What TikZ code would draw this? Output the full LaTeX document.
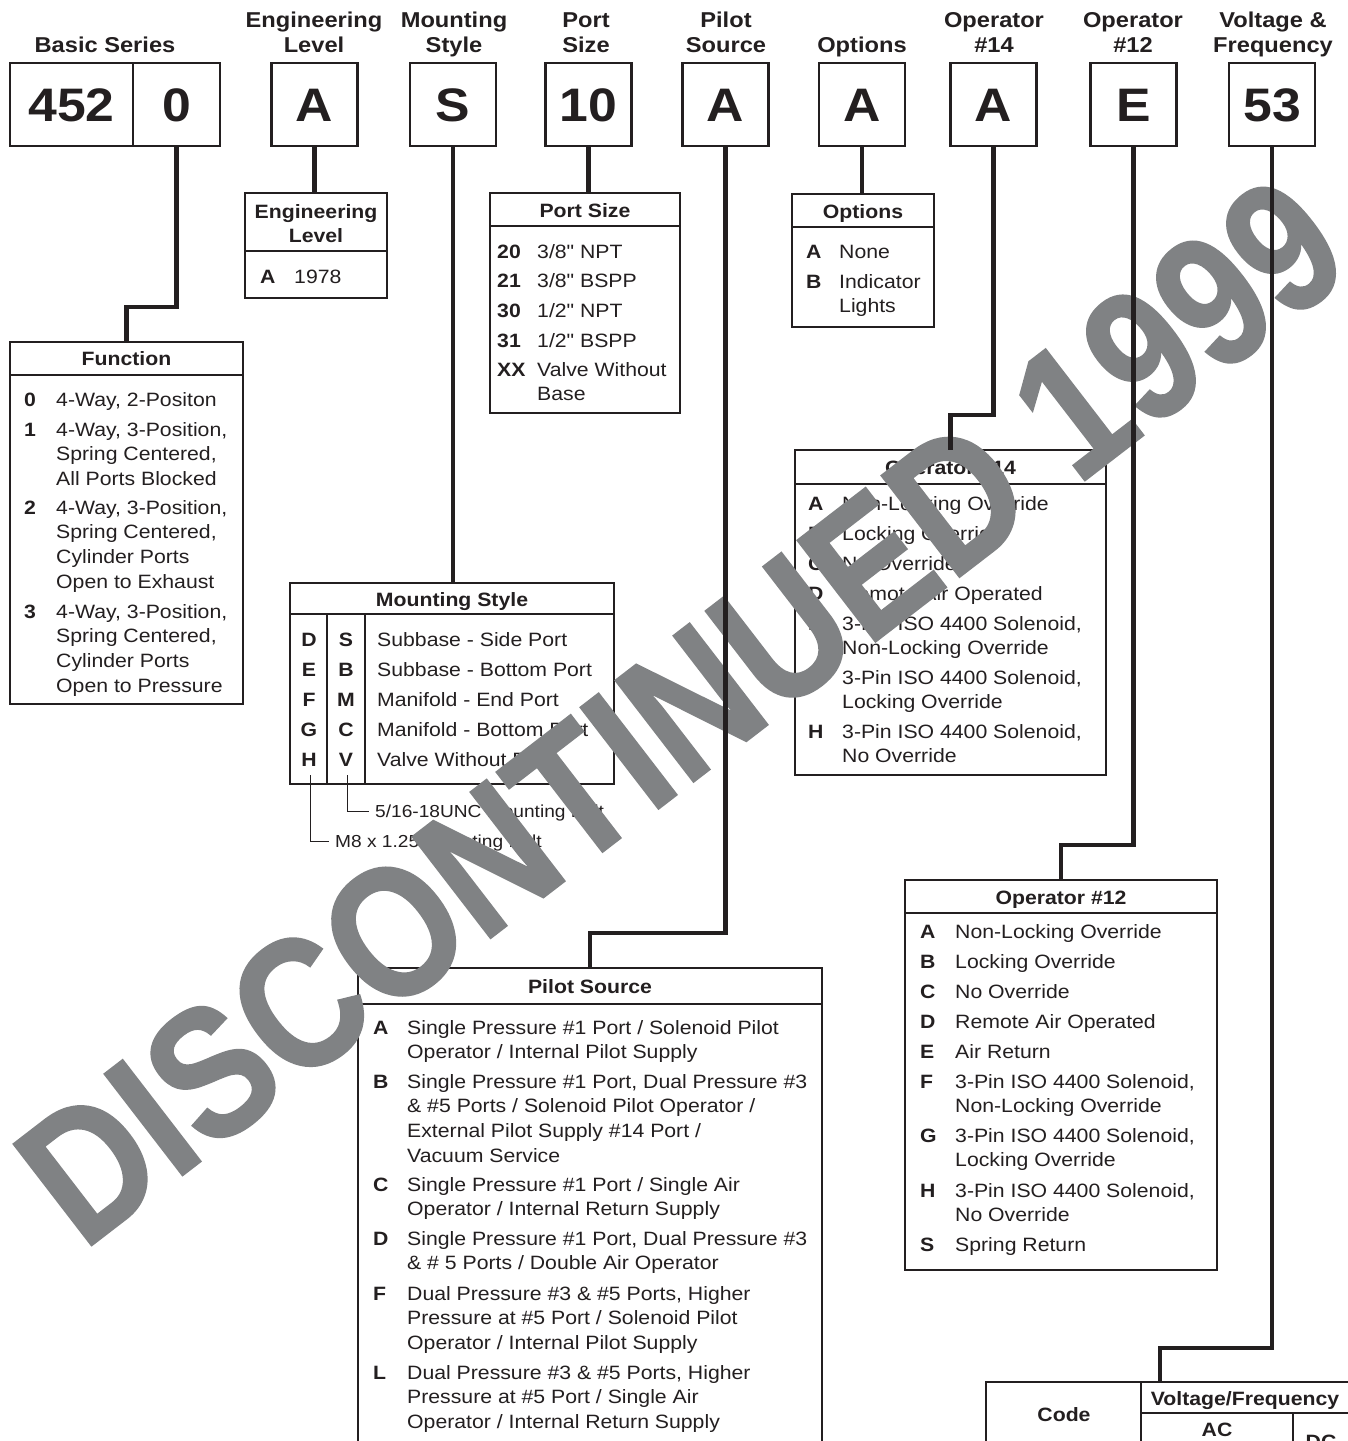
\documentclass[tikz,border=0pt]{standalone}
\usepackage{fontspec}
\setmainfont{Liberation Sans}[FakeStretch=1.1, Ligatures=TeXOff]
\newfontfamily\wmfont{Liberation Sans}[FakeStretch=0.855, FakeBold=1]
\definecolor{ink}{RGB}{35,31,32}
\definecolor{wmgray}{RGB}{128,130,132}
\newcommand\fBody{\fontsize{19.3}{24.7}\selectfont}
\newcommand\fTop{\bfseries\fontsize{21.5}{25}\selectfont}
\newcommand\fBig{\bfseries\fontsize{47}{50}\selectfont}
\newcommand\fSmall{\fontsize{17.4}{20}\selectfont}
\newcommand\qq{{\char34}}
% entry: name, x code, x text, y baseline, code, lines
\newcommand\ent[6]{%
  \node[codet] (#1k) at (#2,#4) {#5};%
  \node[bodyt] (#1) at (#3,#4) {\begin{tabular}[t]{@{}l@{}}#6\end{tabular}};%
}
\tikzset{
  tbl/.style={draw=ink, line width=2.2pt, inner sep=0pt, outer sep=0pt, anchor=north west, rectangle},
  tline/.style={draw=ink, line width=2.2pt},
  conn/.style={draw=ink, line width=4.6pt, line join=miter},
  bigbox/.style={draw=ink, line width=2.4pt, minimum width=86pt, minimum height=83pt, inner sep=0pt, outer sep=0pt, text height=33.6pt, text depth=0pt, font=\fBig, text=ink},
  toplab/.style={anchor=base, inner sep=0pt, font=\fTop, text=ink},
  headt/.style={anchor=base, inner sep=0pt, font=\fBody\bfseries, text=ink},
  codet/.style={anchor=base west, inner sep=0pt, font=\fBody\bfseries, text=ink},
  codec/.style={anchor=base, inner sep=0pt, font=\fBody\bfseries, text=ink},
  bodyt/.style={anchor=base west, inner sep=0pt, font=\fBody, text=ink},
  smallt/.style={anchor=base west, inner sep=0pt, font=\fSmall, text=ink},
  leader/.style={draw=ink, line width=1pt},
  wm/.style={anchor=base west, rotate=37.6, inner sep=0pt, text=wmgray, font=\wmfont\bfseries\fontsize{186}{186}\selectfont}
}
\begin{document}
\begin{tikzpicture}[x=1pt, y=-1pt]
\useasboundingbox (0,0) rectangle (1348,1441);
\clip (0,0) rectangle (1348,1441);
\fill[white] (0,0) rectangle (1348,1441);

% ---------- top labels ----------
\node[toplab] (lbas) at (105,52) {Basic Series};
\node[toplab] (leng) at (314,27) {\begin{tabular}[t]{@{}c@{}}Engineering\\Level\end{tabular}};
\node[toplab] (lmnt) at (454,27) {\begin{tabular}[t]{@{}c@{}}Mounting\\Style\end{tabular}};
\node[toplab] (lprt) at (586,27) {\begin{tabular}[t]{@{}c@{}}Port\\Size\end{tabular}};
\node[toplab] (lpil) at (726,27) {\begin{tabular}[t]{@{}c@{}}Pilot\\Source\end{tabular}};
\node[toplab] (lopt) at (862,52) {Options};
\node[toplab] (lo14) at (994,27) {\begin{tabular}[t]{@{}c@{}}Operator\\\#14\end{tabular}};
\node[toplab] (lo12) at (1133,27) {\begin{tabular}[t]{@{}c@{}}Operator\\\#12\end{tabular}};
\node[toplab] (lvol) at (1273,27) {\begin{tabular}[t]{@{}c@{}}Voltage \&\\Frequency\end{tabular}};

% ---------- top boxes ----------
\node[bigbox, minimum width=123pt] (b452) at (71.5,104.5) {452};
\node[bigbox, minimum width=87pt] (b0) at (176.5,104.5) {0};
\node[bigbox] (bA1) at (314.5,104.5) {A};
\node[bigbox] (bS) at (453,104.5) {S};
\node[bigbox] (b10) at (588.5,104.5) {10};
\node[bigbox] (bpil) at (725.5,104.5) {A};
\node[bigbox] (bopt) at (862,104.5) {A};
\node[bigbox] (bo14) at (993.5,104.5) {A};
\node[bigbox] (bo12) at (1133.5,104.5) {E};
\node[bigbox] (b53) at (1272,104.5) {53};

% ---------- Function ----------
\node[tbl, minimum width=233pt, minimum height=362pt] (fun) at (10,342) {};
\draw[tline] (fun.west |- 0,375) -- (fun.east |- 0,375);
\node[headt] (funh) at (126.5,365) {Function};
\ent{f0}{24}{56}{406}{0}{4-Way, 2-Positon}
\ent{f1}{24}{56}{436}{1}{4-Way, 3-Position,\\Spring Centered,\\All Ports Blocked}
\ent{f2}{24}{56}{514}{2}{4-Way, 3-Position,\\Spring Centered,\\Cylinder Ports\\Open to Exhaust}
\ent{f3}{24}{56}{618}{3}{4-Way, 3-Position,\\Spring Centered,\\Cylinder Ports\\Open to Pressure}

% ---------- Engineering Level ----------
\node[tbl, minimum width=142pt, minimum height=105pt] (eng) at (245,193) {};
\draw[tline] (eng.west |- 0,251) -- (eng.east |- 0,251);
\node[headt] (engh) at (316,218) {\begin{tabular}[t]{@{}c@{}}Engineering\\Level\end{tabular}};
\ent{e1}{260}{294}{283}{A}{1978}

% ---------- Port Size ----------
\node[tbl, minimum width=190pt, minimum height=220pt] (port) at (490,193) {};
\draw[tline] (port.west |- 0,226) -- (port.east |- 0,226);
\node[headt] (porth) at (585,217) {Port Size};
\ent{p1}{497}{537}{258}{20}{3/8\qq{} NPT}
\ent{p2}{497}{537}{287}{21}{3/8\qq{} BSPP}
\ent{p3}{497}{537}{317}{30}{1/2\qq{} NPT}
\ent{p4}{497}{537}{347}{31}{1/2\qq{} BSPP}
\ent{p5}{497}{537}{376}{XX}{Valve Without\\Base}

% ---------- Options ----------
\node[tbl, minimum width=142pt, minimum height=133pt] (opt) at (792,194) {};
\draw[tline] (opt.west |- 0,227) -- (opt.east |- 0,227);
\node[headt] (opth) at (863,218) {Options};
\ent{o1}{806}{839}{258}{A}{None}
\ent{o2}{806}{839}{288}{B}{Indicator\\Lights}

% ---------- Mounting Style ----------
\node[tbl, minimum width=324pt, minimum height=201pt] (mnt) at (290,583) {};
\draw[tline] (mnt.west |- 0,614) -- (mnt.east |- 0,614);
\draw[tline] (327,614) -- (327,784);
\draw[tline] (365,614) -- (365,784);
\node[headt] (mnth) at (452,606) {Mounting Style};
\foreach \i/\a/\b/\t/\yy in {1/D/S/{Subbase - Side Port}/646, 2/E/B/{Subbase - Bottom Port}/676, 3/F/M/{Manifold - End Port}/706, 4/G/C/{Manifold - Bottom Port}/736, 5/H/V/{Valve Without Base}/766}{
  \node[codec] (ma\i) at (309,\yy) {\a};
  \node[codec] (mb\i) at (346,\yy) {\b};
  \node[bodyt] (mt\i) at (377,\yy) {\t};
}
\draw[leader] (347,775) |- (369,811);
\draw[leader] (310,775) |- (329,841);
\node[smallt] (bolt1) at (375,817) {5/16-18UNC Mounting Bolt};
\node[smallt] (bolt2) at (335,847) {M8 x 1.25 Mounting Bolt};

% ---------- Operator #14 ----------
\node[tbl, minimum width=311pt, minimum height=325pt] (op14) at (795,450) {};
\draw[tline] (op14.west |- 0,484) -- (op14.east |- 0,484);
\node[headt] (op14h) at (950.5,474) {Operator \#14};
\ent{q1}{808}{842}{510}{A}{Non-Locking Override}
\ent{q2}{808}{842}{540}{B}{Locking Override}
\ent{q3}{808}{842}{570}{C}{No Override}
\ent{q4}{808}{842}{600}{D}{Remote Air Operated}
\ent{q5}{808}{842}{630}{F}{3-Pin ISO 4400 Solenoid,\\Non-Locking Override}
\ent{q6}{808}{842}{684}{G}{3-Pin ISO 4400 Solenoid,\\Locking Override}
\ent{q7}{808}{842}{738}{H}{3-Pin ISO 4400 Solenoid,\\No Override}

% ---------- Operator #12 ----------
\node[tbl, minimum width=312pt, minimum height=390pt] (op12) at (905,880) {};
\draw[tline] (op12.west |- 0,913) -- (op12.east |- 0,913);
\node[headt] (op12h) at (1061,904) {Operator \#12};
\ent{r1}{920}{955}{938}{A}{Non-Locking Override}
\ent{r2}{920}{955}{968}{B}{Locking Override}
\ent{r3}{920}{955}{998}{C}{No Override}
\ent{r4}{920}{955}{1028}{D}{Remote Air Operated}
\ent{r5}{920}{955}{1058}{E}{Air Return}
\ent{r6}{920}{955}{1088}{F}{3-Pin ISO 4400 Solenoid,\\Non-Locking Override}
\ent{r7}{920}{955}{1142}{G}{3-Pin ISO 4400 Solenoid,\\Locking Override}
\ent{r8}{920}{955}{1197}{H}{3-Pin ISO 4400 Solenoid,\\No Override}
\ent{r9}{920}{955}{1251}{S}{Spring Return}

% ---------- Pilot Source ----------
\node[tbl, minimum width=464pt, minimum height=520pt] (pil) at (358,968) {};
\draw[tline] (pil.west |- 0,1004) -- (pil.east |- 0,1004);
\node[headt] (pilh) at (590,993) {Pilot Source};
\ent{s1}{373}{407}{1034}{A}{Single Pressure \#1 Port / Solenoid Pilot\\Operator / Internal Pilot Supply}
\ent{s2}{373}{407}{1088}{B}{Single Pressure \#1 Port, Dual Pressure \#3\\\& \#5 Ports / Solenoid Pilot Operator /\\External Pilot Supply \#14 Port /\\Vacuum Service}
\ent{s3}{373}{407}{1191}{C}{Single Pressure \#1 Port / Single Air\\Operator / Internal Return Supply}
\ent{s4}{373}{407}{1245}{D}{Single Pressure \#1 Port, Dual Pressure \#3\\\& \# 5 Ports / Double Air Operator}
\ent{s5}{373}{407}{1300}{F}{Dual Pressure \#3 \& \#5 Ports, Higher\\Pressure at \#5 Port / Solenoid Pilot\\Operator / Internal Pilot Supply}
\ent{s6}{373}{407}{1379}{L}{Dual Pressure \#3 \& \#5 Ports, Higher\\Pressure at \#5 Port / Single Air\\Operator / Internal Return Supply}

% ---------- Voltage / Frequency ----------
\node[tbl, minimum width=364pt, minimum height=100pt] (vt) at (986,1382) {};
\draw[tline] (1141,1382) -- (1141,1482);
\draw[tline] (1141,1413) -- (1350,1413);
\draw[tline] (1293,1413) -- (1293,1482);
\node[headt] (vtc) at (1064,1421) {Code};
\node[headt] (vtv) at (1245,1405) {Voltage/Frequency};
\node[headt] (vtac) at (1217,1436) {AC};
\node[headt] (vtdc) at (1321,1448) {DC};
\coordinate (vtin) at (1160,1382);

% ---------- watermark ----------
\node[wm] (wmark) at (83,1252) {DISCONTINUED 1999};

% ---------- connectors ----------
\draw[conn] (b0.south) -- (b0.south |- 0,307) -| (fun.north);
\draw[conn] (bA1.south) -- (bA1.south |- eng.north);
\draw[conn] (bS.south) -- (bS.south |- mnt.north);
\draw[conn] (b10.south) -- (b10.south |- port.north);
\draw[conn] (bpil.south) -- (bpil.south |- 0,933) -| (pil.north);
\draw[conn] (bopt.south) -- (bopt.south |- opt.north);
\draw[conn] (bo14.south) -- (bo14.south |- 0,415) -| (op14.north);
\draw[conn] (bo12.south) -- (bo12.south |- 0,845) -| (op12.north);
\draw[conn] (b53.south) -- (b53.south |- 0,1348) -| (vtin);
\end{tikzpicture}
\end{document}
